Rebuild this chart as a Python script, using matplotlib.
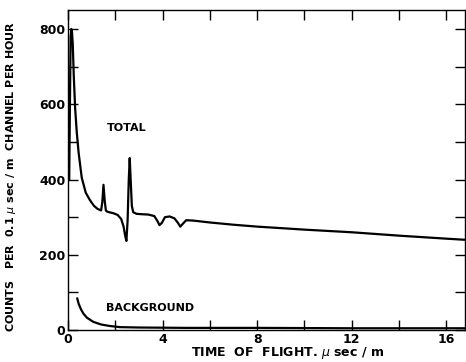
import matplotlib
matplotlib.use('Agg')
import matplotlib.pyplot as plt

# total spectrum
total_x = [0.05, 0.08, 0.11, 0.14, 0.17, 0.2, 0.24, 0.3, 0.37, 0.45, 0.58, 0.75, 0.93,
           1.1, 1.25, 1.4, 1.45, 1.5, 1.55, 1.6, 1.65, 1.75, 1.9, 2.1, 2.25, 2.35,
           2.42, 2.47, 2.52, 2.57, 2.61, 2.65, 2.7, 2.76, 2.9, 3.1, 3.4, 3.65, 3.78,
           3.87, 3.97, 4.1, 4.3, 4.5, 4.65, 4.75, 4.85, 5.0, 5.3, 6.0, 7.0, 8.0,
           10.0, 12.0, 14.0, 16.0, 16.8]
total_y = [400, 600, 780, 800, 790, 760, 680, 590, 525, 470, 405, 365, 345,
           330, 322, 318, 340, 386, 345, 318, 315, 313, 311, 306, 295, 275,
           250, 237, 290, 400, 457, 400, 330, 313, 309, 308, 307, 303, 290,
           279, 285, 300, 302, 297, 285, 275, 282, 292, 291, 286, 280, 275,
           267, 260, 251, 243, 240]

# background
bg_x = [0.39, 0.45, 0.55, 0.65, 0.8, 1.07, 1.4, 1.77, 2.2, 3.0, 5.0, 8.0, 12.0, 16.8]
bg_y = [84, 70, 55, 44, 33, 22, 15, 11, 8, 7, 6, 6, 5, 5]

x_major = [0, 4, 8, 12, 16]
x_minor = [2, 6, 10, 14]
y_major = [0, 200, 400, 600, 800]
y_minor = [100, 300, 500, 700]

plt.rcParams['font.family'] = 'DejaVu Sans'
fig = plt.figure(figsize=(4.66, 3.62), dpi=100)
ax = fig.add_axes([0.146, 0.088, 0.852, 0.884])

ax.plot(total_x, total_y, color='black', lw=1.6)
ax.plot(bg_x, bg_y, color='black', lw=1.6)

ax.set_xlim(0, 16.8)
ax.set_ylim(0, 850)
ax.set_xticks(x_major)
ax.set_xticks(x_minor, minor=True)
ax.set_yticks(y_major)
ax.set_yticks(y_minor, minor=True)
ax.tick_params(which='both', direction='in', top=True, right=True,
               length=7, width=1.0, labelsize=9, pad=2)
for lab in ax.get_xticklabels() + ax.get_yticklabels():
    lab.set_fontweight('bold')
for s in ax.spines.values():
    s.set_linewidth(1.0)

ax.text(2.5, 537, 'TOTAL', fontsize=8, fontweight='bold', ha='center', va='center')
ax.text(3.45, 58, 'BACKGROUND', fontsize=8, fontweight='bold', ha='center', va='center')

ax.set_xlabel('TIME  OF  FLIGHT. $\\mu$ sec / m', fontsize=9, fontweight='bold')
ax.xaxis.set_label_coords(0.553, -0.045)
ax.set_ylabel('COUNTS   PER  0.1 $\\mu$ sec / m  CHANNEL PER HOUR', fontsize=8,
              fontweight='bold')
ax.yaxis.set_label_coords(-0.125, 0.48)

fig.savefig('out.png', dpi=100)
